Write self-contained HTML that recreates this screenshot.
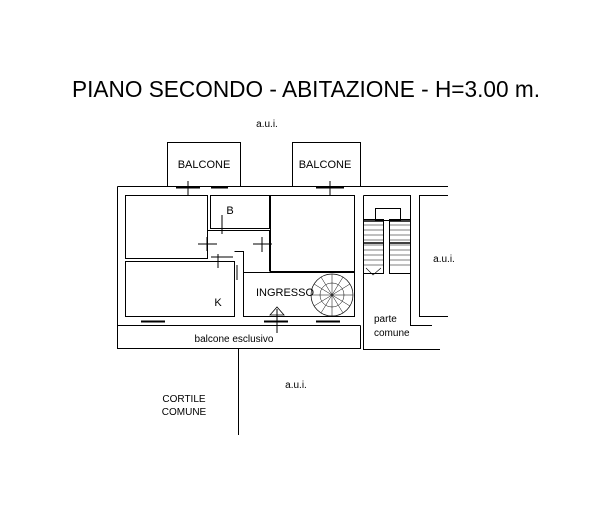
<!DOCTYPE html>
<html><head><style>
html,body{margin:0;padding:0;background:#fff;}
svg{display:block;}
text{font-family:"Liberation Sans",sans-serif;fill:#000;}
</style></head><body>
<svg width="609" height="522" viewBox="0 0 609 522" xmlns="http://www.w3.org/2000/svg">
<rect width="609" height="522" fill="#fff"/>
<text x="72" y="97" font-size="23" textLength="468" lengthAdjust="spacingAndGlyphs">PIANO SECONDO - ABITAZIONE - H=3.00 m.</text>
<text x="267" y="127" font-size="10" text-anchor="middle">a.u.i.</text>
<g fill="none" stroke="#000" stroke-width="1">
<rect x="167.5" y="142.5" width="73" height="44"/>
<rect x="292.5" y="142.5" width="68" height="44"/>
<path d="M117.5 186.5 H448 M117.5 186.5 V348.5 H360.5 V325.5 M117.5 325.5 H360.5"/>
<rect x="125.5" y="195.5" width="82" height="63"/>
<rect x="210.5" y="195.5" width="59" height="33"/>
<rect x="270.5" y="195.5" width="84" height="76"/>
<rect x="125.5" y="261.5" width="109" height="55"/>
<rect x="243.5" y="272.5" width="111" height="44"/>
<path d="M207.5 230.5 H269.5 V271.5 M234.5 251.5 H243.5 V272.5"/>
<path d="M363.5 195.5 V350 M363.5 195.5 H410.5 V325.5 H432 M363.5 349.5 H440"/>
<path d="M448 195.5 H419.5 V316.5 H448"/>
<rect x="375.5" y="208.5" width="25" height="12"/>
<rect x="363.5" y="219.5" width="20" height="54"/>
<rect x="389.5" y="219.5" width="21" height="54"/>
<path d="M363 225H384M363 230H384M363 235H384M363 240H384M363 245H384M363 250H384M363 255H384M363 260H384M363 265H384M389 225H410M389 230H410M389 235H410M389 240H410M389 245H410M389 250H410M389 255H410M389 260H410M389 265H410" stroke-width="0.6"/>
<path d="M363 221H384M389 221H410M363 243H384M389 243H410" stroke-width="1.5"/>
<path d="M366 268 L373 275 L381 268" stroke-width="0.6"/>
<circle cx="332" cy="295" r="21" stroke-width="0.7"/>
<circle cx="332" cy="295" r="12" stroke-width="0.5"/>
<path d="M332 295L353 295M332 295L350 284M332 295L343 277M332 295L332 274M332 295L321 277M332 295L314 284M332 295L311 295M332 295L314 306M332 295L321 313M332 295L332 316M332 295L343 313M332 295L350 306" stroke-width="0.5"/>
<path d="M238.5 348 V435"/>
<path d="M176 187.5H200M211 187.5H228M316 187.5H344M141 321.5H165M264 321.5H288M316 321.5H340" stroke-width="2"/>
<path d="M188 181V195M330 181V195M277 309V333M222 215V234M218 254V268M207 237V251M198 244H217M262 237V252M253 244H272M237 265V280M211 257H233" stroke-width="1"/>
<path d="M270 315L277 307L284 315Z" stroke-width="0.8"/>
</g>
<text x="204" y="168" font-size="11" text-anchor="middle">BALCONE</text>
<text x="325" y="168" font-size="11" text-anchor="middle">BALCONE</text>
<text x="230" y="214" font-size="11" text-anchor="middle">B</text>
<text x="218" y="306" font-size="11" text-anchor="middle">K</text>
<text x="285" y="296" font-size="11" text-anchor="middle">INGRESSO</text>
<text x="234" y="342" font-size="10" text-anchor="middle">balcone esclusivo</text>
<text x="444" y="262" font-size="10" text-anchor="middle">a.u.i.</text>
<text x="374" y="322" font-size="10">parte</text>
<text x="374" y="336" font-size="10">comune</text>
<text x="296" y="388" font-size="10" text-anchor="middle">a.u.i.</text>
<text x="184" y="402" font-size="10" text-anchor="middle">CORTILE</text>
<text x="184" y="415" font-size="10" text-anchor="middle">COMUNE</text>
</svg>
</body></html>
